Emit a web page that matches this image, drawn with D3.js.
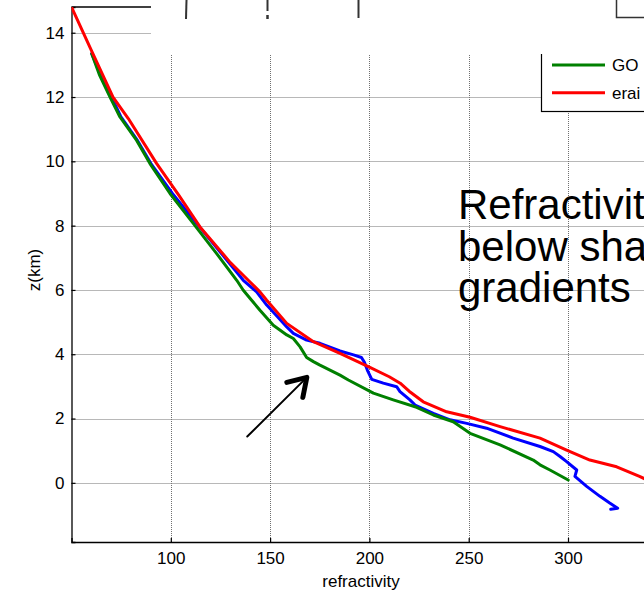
<!DOCTYPE html>
<html><head><meta charset="utf-8">
<script src="https://cdn.jsdelivr.net/npm/d3@7"></script>
<style>
html,body{margin:0;padding:0;background:#fff;}
svg{display:block;font-family:"Liberation Sans",Arial,Helvetica,sans-serif;}
</style></head>
<body>
<svg id="c" width="644" height="593"></svg>
<script>
// ---- data ----
const xTicks = [100, 150, 200, 250, 300];
const yTicks = [0, 2, 4, 6, 8, 10, 12, 14];
const seriesNames = ["GO", "erai"];
const noteLines = ["Refractivit", "below sha", "gradients"];

const eraiN = [50,60,70.9,78.6,92.9,104,114.7,130,139,144.9,148.3,158.4,171.8,185.2,200,210,215.5,220,227.1,238.9,250.7,265.8,285.9,299.3,311,324.5,336,350];
const eraiZ = [14.8,13.45,12.0,11.33,9.93,8.95,7.96,6.85,6.3,5.94,5.68,4.96,4.39,4.03,3.6,3.3,3.1,2.85,2.52,2.21,2.04,1.75,1.39,1.02,0.71,0.5,0.2,-0.2];

const goN = [60.2,64,69.4,74.4,82.8,89.5,99.6,111.3,123.1,133.2,136.5,140.7,144.9,151.6,158.4,161.7,165.1,168.4,171.8,175.1,185.2,189.4,202,212,223.8,232.2,242.2,250.7,265.8,282.5,285.9,290.9,300.1];
const goZ = [13.35,12.7,12.0,11.38,10.65,9.93,9.0,8.07,7.13,6.3,5.99,5.68,5.37,4.9,4.6,4.49,4.23,3.9,3.77,3.66,3.35,3.2,2.79,2.58,2.35,2.11,1.9,1.54,1.18,0.71,0.56,0.4,0.09];

const obsN = [60.2,64.5,70.2,74.9,83.2,90,100.8,113,125.5,136.5,143.2,148.3,153.5,158.4,161.7,168.4,175.1,185.2,192,196,197.5,199,201.2,207,213.7,215.4,220.4,223,232.2,240.6,249,259,272.4,285.9,292.6,296,299.3,304.4,303.5,309.4,316.1,321,325,321.5];
const obsZ = [13.35,12.7,12.0,11.38,10.65,9.93,9.0,8.07,7.13,6.3,5.94,5.53,5.18,4.85,4.65,4.44,4.34,4.1,3.98,3.9,3.75,3.5,3.22,3.1,2.99,2.84,2.58,2.42,2.16,1.96,1.85,1.7,1.39,1.13,0.97,0.82,0.66,0.4,0.2,-0.11,-0.42,-0.63,-0.79,-0.82];

const arrowFrom = [138.5, 1.44];
const arrowTo = [168.5, 3.28];

// ---- drawing ----
const svg = d3.select("#c");
const x = d3.scaleLinear().domain([50, 350]).range([71.5, 667.3]);
const y = d3.scaleLinear().domain([-1.84, 14.8]).range([542, 7]);
const [x0, x1] = x.range();
const [yb, yt] = y.range();

svg.append("defs").append("clipPath").attr("id","plot")
  .append("rect").attr("x", x0).attr("y", yt).attr("width", x1 - x0).attr("height", yb - yt);

// grid
const grid = svg.append("g").attr("stroke", "#707070").attr("stroke-width", 1).attr("stroke-dasharray", "1,1");
grid.selectAll(".gx").data(xTicks).join("line")
  .attr("x1", d => Math.round(x(d)) + 0.5).attr("x2", d => Math.round(x(d)) + 0.5)
  .attr("y1", yt).attr("y2", yb);
grid.selectAll(".gy").data(yTicks).join("line")
  .attr("y1", d => Math.round(y(d)) + 0.5).attr("y2", d => Math.round(y(d)) + 0.5)
  .attr("x1", x0).attr("x2", x1);

// axes (MATLAB style, inward ticks)
const ax = svg.append("g").attr("transform", `translate(0,${yb})`)
  .call(d3.axisBottom(x).tickValues(xTicks).tickSize(-4).tickPadding(10));
const ay = svg.append("g").attr("transform", `translate(${x0},0)`)
  .call(d3.axisLeft(y).tickValues(yTicks).tickSize(-4).tickPadding(7));
[ax, ay].forEach(g => {
  g.select(".domain").attr("stroke", "#000").attr("stroke-width", 1.3);
  g.selectAll(".tick line").attr("stroke", "#000").attr("stroke-width", 1.2);
  g.selectAll(".tick text").attr("fill", "#000").attr("font-size", 17)
    .attr("font-family", '"Liberation Sans",Arial,sans-serif');
});
// top border
svg.append("line").attr("x1", x0).attr("x2", x1).attr("y1", yt).attr("y2", yt)
  .attr("stroke", "#000").attr("stroke-width", 1.3);

// curves
const line = d3.line().x(d => x(d[0])).y(d => y(d[1]));
const curves = svg.append("g").attr("clip-path", "url(#plot)").attr("fill", "none")
  .attr("stroke-linejoin", "round").attr("stroke-linecap", "round");
curves.append("path").datum(d3.zip(obsN, obsZ)).attr("d", line).attr("stroke", "#0000ff").attr("stroke-width", 3);
curves.append("path").datum(d3.zip(goN, goZ)).attr("d", line).attr("stroke", "#008000").attr("stroke-width", 3);
curves.append("path").datum(d3.zip(eraiN, eraiZ)).attr("d", line).attr("stroke", "#ff0000").attr("stroke-width", 3);

// axis titles
svg.append("text").attr("x", 361).attr("y", 587).attr("text-anchor", "middle")
  .attr("font-size", 17).text("refractivity");
svg.append("text").attr("transform", "translate(40,270) rotate(-90)").attr("text-anchor", "middle")
  .attr("font-size", 17).text("z(km)");

// legend
const lg = svg.append("g");
lg.append("rect").attr("x", 541.5).attr("y", 20).attr("width", 200).attr("height", 91.5)
  .attr("fill", "#fff").attr("stroke", "#000").attr("stroke-width", 1.2);
const legColors = ["#008000", "#ff0000"];
const legY = [65, 92.7];
seriesNames.forEach((n, i) => {
  lg.append("line").attr("x1", 552).attr("x2", 605).attr("y1", legY[i]).attr("y2", legY[i])
    .attr("stroke", legColors[i]).attr("stroke-width", 3);
  lg.append("text").attr("x", 612).attr("y", legY[i]).attr("dy", "0.36em")
    .attr("font-size", 17).text(n);
});

// white cover shape (slide overlay)
svg.append("rect").attr("x", 151).attr("y", 0).attr("width", 493).attr("height", 54).attr("fill", "#fff");
// fragments peeking from above
const frag = svg.append("g").attr("stroke", "#333").attr("stroke-width", 2).attr("fill", "none");
frag.append("line").attr("x1", 186.5).attr("x2", 186).attr("y1", 0).attr("y2", 19);
frag.append("line").attr("x1", 267.5).attr("x2", 267.5).attr("y1", 0).attr("y2", 11);
frag.append("line").attr("x1", 267.5).attr("x2", 267.5).attr("y1", 15).attr("y2", 19).attr("stroke-width", 2.5);
frag.append("line").attr("x1", 358.5).attr("x2", 358.5).attr("y1", 0).attr("y2", 18);
frag.append("path").attr("d", "M616.5,0 V17.5 H644").attr("stroke-width", 1.5);

// annotation text
const txt = svg.append("g").attr("font-size", 42).attr("fill", "#000");
noteLines.forEach((t, i) => {
  txt.append("text").attr("x", 458).attr("y", 219 + i * 41.5).text(t);
});

// arrow
const ar = svg.append("g").attr("stroke", "#000").attr("fill", "none").attr("stroke-linecap", "round").attr("stroke-linejoin", "round");
const tx = x(arrowTo[0]), ty = y(arrowTo[1]);
ar.append("line").attr("x1", x(arrowFrom[0])).attr("y1", y(arrowFrom[1])).attr("x2", tx).attr("y2", ty).attr("stroke-width", 2);
ar.append("path").attr("d", `M${tx - 20},${ty + 5} L${tx},${ty} L${tx - 4},${ty + 20}`).attr("stroke-width", 5);
</script>
</body></html>
